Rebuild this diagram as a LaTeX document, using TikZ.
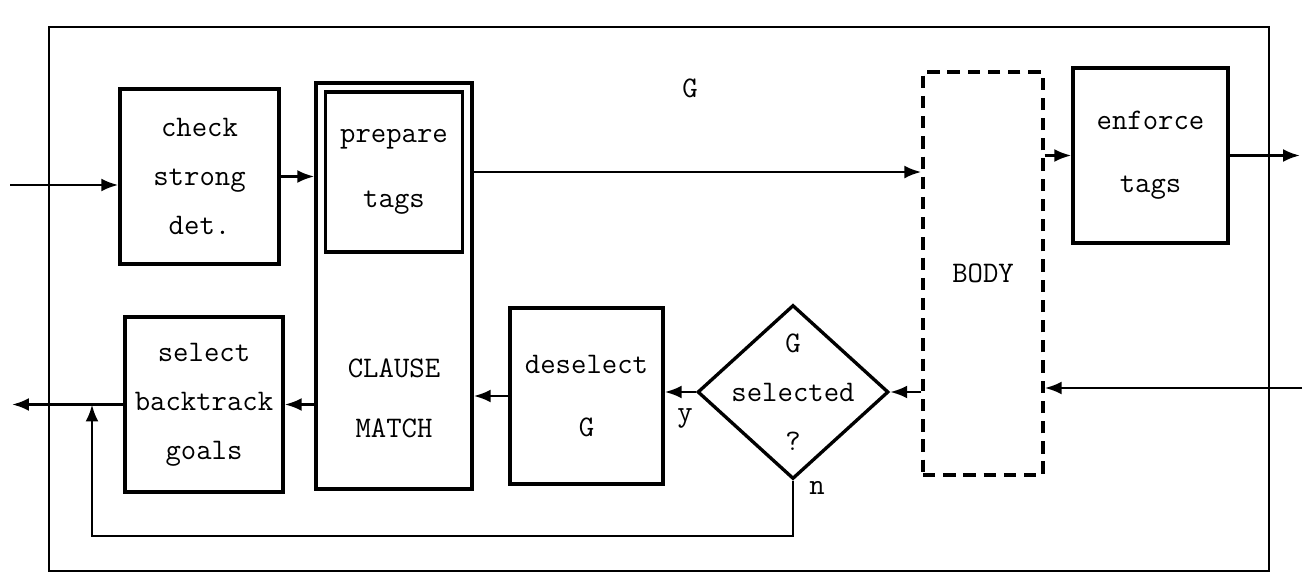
\documentclass[tikz,border=0pt]{standalone}
\usepackage{fontspec}
\usetikzlibrary{arrows.meta,positioning,shapes.geometric}

\begin{document}
\begin{tikzpicture}[x=0.02cm,y=-0.02cm,
  block/.style={draw,line width=1.9pt,align=center,inner sep=2pt,font=\fontsize{17}{28}\ttfamily},
  decision/.style={diamond,draw,line width=1.9pt,minimum width=3.82cm,minimum height=3.48cm,inner sep=0pt},
  tag/.style={font=\fontsize{17}{28}\ttfamily,align=center,inner sep=1pt},
  arrow/.style={-{Latex[length=3.4mm,width=2.6mm]},line width=1.6pt},
  frame/.style={line width=1.6pt}
]
\useasboundingbox (0,0) rectangle (1304,577);
% outer box of goal G
\draw[frame] (49,27) rectangle (1269,571);
\node[tag] (gname) at (690,88) {G};

% top row
\node[block,minimum width=3.18cm,minimum height=3.5cm] (check) at (199.5,176.5) {check\\strong\\det.};
\node[block,minimum width=3.12cm,minimum height=8.12cm] (clause) at (394,286) {};
\node[block,minimum width=2.74cm,minimum height=3.2cm,below=0.18cm of clause.north] (prep) {prepare\\[9pt]tags};
\node[tag] (cmatch) at (394,398) {CLAUSE\\[6pt]MATCH};
\node[block,dash pattern=on 7pt off 4.5pt,minimum width=2.4cm,minimum height=8.06cm] (body) at (983,273.5) {BODY};
\node[block,minimum width=3.1cm,minimum height=3.5cm] (enforce) at (1150.5,155.5) {enforce\\[8pt]tags};

% bottom row
\node[block,minimum width=3.16cm,minimum height=3.5cm] (select) at (204,404.5) {select\\backtrack\\goals};
\node[block,minimum width=3.06cm,minimum height=3.52cm] (deselect) at (586.5,396) {deselect\\[8pt]G};
\node[decision,label={[tag]center:{G\\selected\\?}}] (dia) at (793,392) {};
\node[tag] (yes) at (685,418) {y};
\node[tag] (no) at (817,488) {n};

% connectors
\coordinate (lin) at (10,185);
\coordinate (lout) at (12,407);
\coordinate (rin) at (1302,388);
\coordinate (rout) at (1300,160);
\coordinate (fb) at (92,536);
\draw[arrow] (lin) -- (lin -| check.west);
\draw[arrow] (check.east) -- (check.east -| clause.west);
\draw[arrow] (prep.east -| clause.east) -- (prep.east -| body.west);
\draw[arrow] (enforce.west -| body.east) -- (enforce.west);
\draw[arrow] (enforce.east) -- (enforce.east -| rout);
\draw[arrow] (rin) -- (rin -| body.east);
\draw[arrow] (dia.east -| body.west) -- (dia.east);
\draw[arrow] (dia.west) -- (dia.west -| deselect.east);
\draw[arrow] (deselect.west) -- (deselect.west -| clause.east);
\draw[arrow] (select.east -| clause.west) -- (select.east);
\draw[arrow] (select.west) -- (select.west -| lout);
\draw[arrow] (dia.south) |- (fb) -- (fb |- select.west);
\end{tikzpicture}
\end{document}
